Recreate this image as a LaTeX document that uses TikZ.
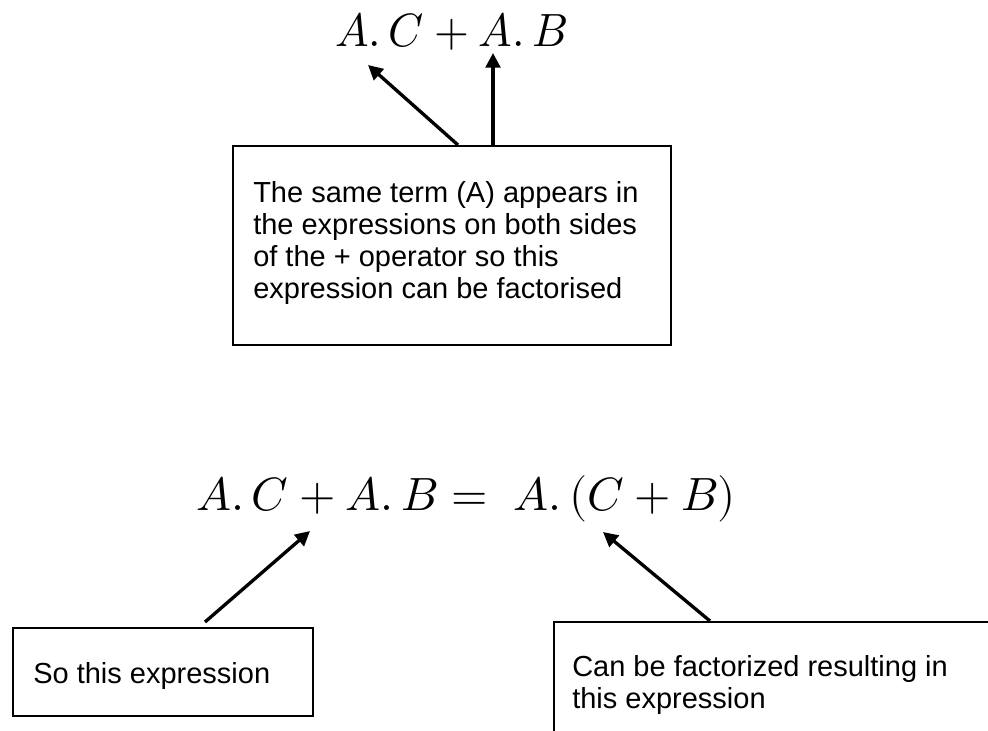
\documentclass[tikz,border=0pt]{standalone}
\usepackage{fontspec}
\usepackage{unicode-math}
\setmainfont{Liberation Sans}
\setmathfont{Latin Modern Math}
\usetikzlibrary{arrows.meta}
\begin{document}
\begin{tikzpicture}[x=0.75pt,y=-0.75pt,
  box/.style={draw,line width=1.3pt,rectangle,inner sep=0pt,anchor=north west},
  txt/.style={font=\fontsize{21.75}{24}\selectfont,align=left,inner sep=0pt,anchor=base west},
  eq/.style={font=\fontsize{35}{42}\selectfont,inner sep=0pt,anchor=base west},
  arr/.style={-{Triangle[length=11pt,width=11pt]},line width=2.5pt}]
\useasboundingbox (0,0) rectangle (988,731);
\clip (0,0) rectangle (988,731);
% equations
\node[eq] (eqtop) at (335,47) {\scalebox{0.96}[1]{$A.\,C+A.\,B$}};
\node[eq] (eqbot) at (196,510) {$A.\,C+A.\,B=\;A.\,(C+B)$};
% boxes
\node[box,minimum width=328.5pt,minimum height=149.25pt] (topbox) at (232,145) {};
\node[txt] (toptext) at (253,298) {The same term (A) appears in\\the expressions on both sides\\of the + operator so this\\expression can be factorised};
\node[box,minimum width=225pt,minimum height=66pt] (leftbox) at (12,627) {};
\node[txt] (lefttext) at (33,683) {So this expression};
\node[box,minimum width=345pt,minimum height=97.5pt] (rightbox) at (553,621) {};
\node[txt] (righttext) at (572,708) {Can be factorized resulting in\\this expression};
% arrow ends
\coordinate (t1) at (368,65);
\coordinate (t2) at (493,53);
\coordinate (s1) at (458,145);
\coordinate (b1) at (310,531);
\coordinate (b2) at (603,532);
\coordinate (sl) at (205,622);
\coordinate (sr) at (710,621);
% arrows
\draw[arr] (s1) -- (t1);
\draw[arr] (topbox.north -| t2) -- (t2);
\draw[arr] (sl) -- (b1);
\draw[arr] (sr) -- (b2);
\end{tikzpicture}
\end{document}
